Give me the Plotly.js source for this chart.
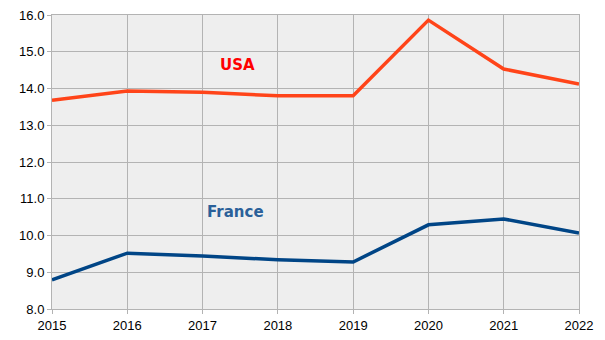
<!DOCTYPE html>
<html><head><meta charset="utf-8">
<script src="https://cdn.plot.ly/plotly-3.0.1.min.js"></script>
<style>html,body{margin:0;padding:0;background:#fff}</style>
</head><body>
<div id="chart" style="width:605px;height:340px"></div>
<script>
const years = [2015, 2016, 2017, 2018, 2019, 2020, 2021, 2022];
const usa = [13.68, 13.93, 13.90, 13.80, 13.80, 15.86, 14.53, 14.12];
const france = [8.79, 9.52, 9.44, 9.34, 9.28, 10.29, 10.45, 10.07];
const yTicks = [8, 9, 10, 11, 12, 13, 14, 15, 16];
const yTickText = yTicks.map(v => v.toFixed(1));

const traces = [
  {x: years, y: usa, mode: 'lines', line: {color: '#ff4419', width: 3.5}, name: 'USA', hoverinfo: 'skip'},
  {x: years, y: france, mode: 'lines', line: {color: '#004586', width: 3.5}, name: 'France', hoverinfo: 'skip'}
];
const axisCommon = {
  showgrid: true, gridcolor: '#b3b3b3', gridwidth: 1,
  showline: true, linecolor: '#b3b3b3', linewidth: 1, mirror: true,
  ticks: 'outside', ticklen: 4, tickcolor: '#b3b3b3',
  zeroline: false,
  tickfont: {family: 'Liberation Sans, Arial, sans-serif', size: 13, color: '#000'}
};
const layout = {
  width: 605, height: 340,
  margin: {l: 52, r: 26, t: 15, b: 31},
  paper_bgcolor: '#ffffff', plot_bgcolor: '#eeeeee',
  showlegend: false,
  xaxis: Object.assign({}, axisCommon, {range: [2015, 2022], tickvals: years, ticktext: years.map(String)}),
  yaxis: Object.assign({}, axisCommon, {range: [8, 16], tickvals: yTicks, ticktext: yTickText}),
  annotations: [
    {x: 2017.46, y: 14.64, text: 'USA', showarrow: false, font: {family: 'DejaVu Sans, sans-serif', size: 15, color: '#ff0000', weight: 'bold'}},
    {x: 2017.44, y: 10.64, text: 'France', showarrow: false, font: {family: 'DejaVu Sans, sans-serif', size: 15, color: '#2a6099', weight: 'bold'}}
  ]
};
Plotly.newPlot('chart', traces, layout, {staticPlot: true, displayModeBar: false});
</script>
</body></html>
